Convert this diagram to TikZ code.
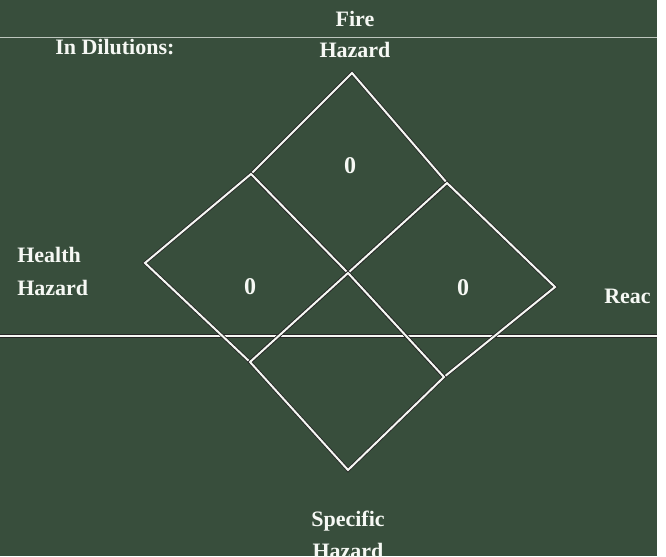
\documentclass[tikz,border=0pt]{standalone}
\usepackage{fontspec}
\setmainfont{Liberation Serif}
\usetikzlibrary{positioning}

\definecolor{scanbg}{RGB}{56,78,60}
\definecolor{scanline}{RGB}{246,248,244}

\begin{document}
\begin{tikzpicture}[
  x=0.75pt, y=-0.75pt,
  lbl/.style={text=scanline, font=\fontsize{16.5}{20}\selectfont\bfseries, inner sep=0pt},
  num/.style={text=scanline, font=\fontsize{18}{20}\selectfont\bfseries, inner sep=0pt},
  edge/.style={draw=black!85, double=scanline, double distance=1.5pt, line width=0.6pt, line join=miter},
  rule/.style={draw=scanline, line width=1.2pt}
]
  \fill[scanbg] (0,0) rectangle (666,556);
  \fill[white] (657,0) rectangle (666,556);
  \useasboundingbox (0,0) rectangle (666,556);

  % ruled lines of the sheet
  \coordinate (ruleA0) at (0,37);
  \coordinate (ruleA1) at (657,37);
  \coordinate (ruleB0) at (0,336);
  \coordinate (ruleB1) at (657,336);
  \draw[rule, line width=0.6pt, opacity=0.7] (ruleA0) -- (ruleA1);
  \draw[edge] (ruleB0) -- (ruleB1);

  % diamond corners
  \coordinate (top) at (352,73);
  \coordinate (lft) at (145,263);
  \coordinate (rgt) at (555,287);
  \coordinate (bot) at (348,470);
  \coordinate (mid) at (348,273);
  \coordinate (tl) at (251,174);
  \coordinate (tr) at (447,183);
  \coordinate (bl) at (250,362);
  \coordinate (br) at (444,377);

  \draw[edge] (top) -- (tr) -- (mid) -- (tl) -- cycle;
  \draw[edge] (tl) -- (mid) -- (bl) -- (lft) -- cycle;
  \draw[edge] (tr) -- (rgt) -- (br) -- (mid) -- cycle;
  \draw[edge] (mid) -- (br) -- (bot) -- (bl) -- cycle;

  \node[num] (fireval) at (350,166) {0};
  \node[num] (healthval) at (250,287) {0};
  \node[num] (reactval) at (463,288) {0};

  % labels
  \node[lbl, anchor=base west] (dilute) at (55,55) {In Dilutions:};
  \node[lbl, anchor=base] (fire) at (355,27) {Fire};
  \node[lbl, anchor=base] (firehaz) at (355,58) {Hazard};
  \node[lbl, anchor=base west] (health) at (17,262) {Health};
  \node[lbl, anchor=base west] (healthhaz) at (17,295) {Hazard};
  \node[lbl, anchor=base west] (react) at (604,303) {Reac};
  \node[lbl, anchor=base] (special) at (348,526) {Specific};
  \node[lbl, anchor=base] (specialhaz) at (348,558) {Hazard};
\end{tikzpicture}
\end{document}
